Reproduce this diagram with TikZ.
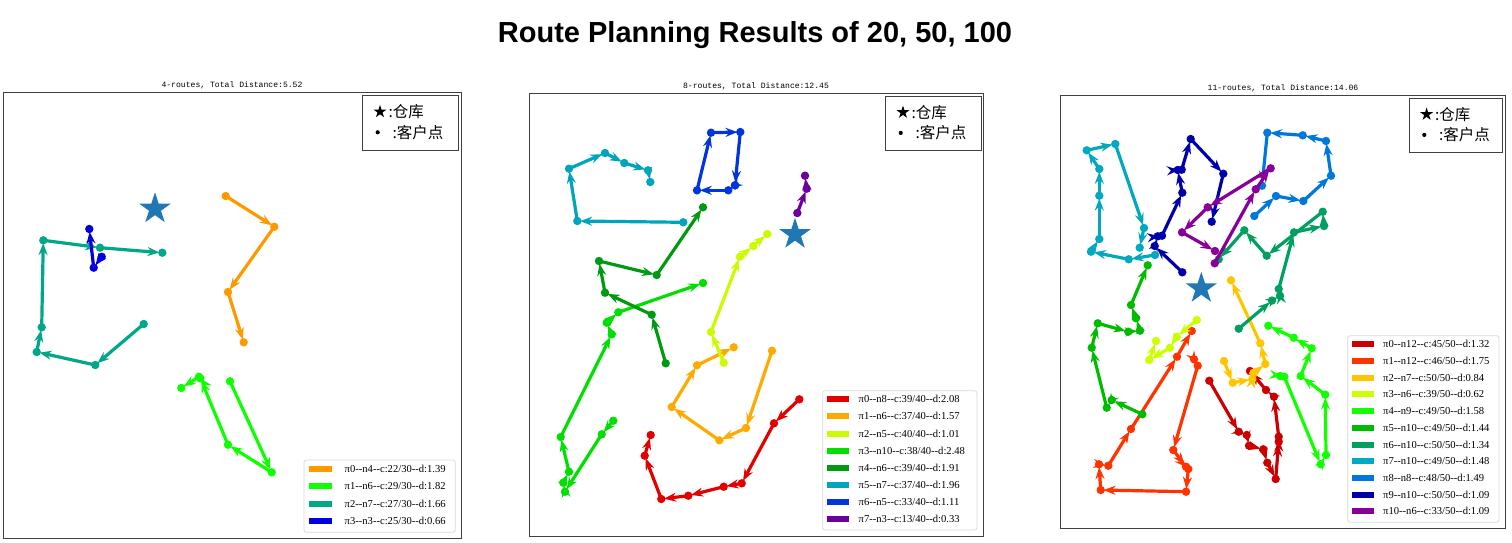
\documentclass[tikz,border=0pt]{standalone}
\usepackage{fontspec}
\setmainfont{Liberation Serif}
\newfontfamily\cjk{Noto Sans CJK SC}
\newfontfamily\ttlfont{Liberation Sans}
\newfontfamily\monofont{Liberation Mono}
\usetikzlibrary{arrows.meta,shapes.geometric}
% panel 1
\definecolor{pa0}{HTML}{FF9900}
\definecolor{pa1}{HTML}{0FFF00}
\definecolor{pa2}{HTML}{00A888}
\definecolor{pa3}{HTML}{0000DD}
% panel 2
\definecolor{pb0}{HTML}{E50000}
\definecolor{pb1}{HTML}{FFAA00}
\definecolor{pb2}{HTML}{CCFA00}
\definecolor{pb3}{HTML}{00E000}
\definecolor{pb4}{HTML}{009A10}
\definecolor{pb5}{HTML}{00A4BB}
\definecolor{pb6}{HTML}{0035DD}
\definecolor{pb7}{HTML}{6A009D}
% panel 3
\definecolor{pc0}{HTML}{CC0000}
\definecolor{pc1}{HTML}{FF3300}
\definecolor{pc2}{HTML}{FFC600}
\definecolor{pc3}{HTML}{CCFF00}
\definecolor{pc4}{HTML}{11FF00}
\definecolor{pc5}{HTML}{00BB00}
\definecolor{pc6}{HTML}{00A060}
\definecolor{pc7}{HTML}{00A8C0}
\definecolor{pc8}{HTML}{0077DD}
\definecolor{pc9}{HTML}{0000AA}
\definecolor{pc10}{HTML}{880099}
\definecolor{starblue}{HTML}{1F77B4}
\tikzset{
  seg/.style={draw=#1, line width=3.2pt, -{Stealth[length=12pt,width=9pt,inset=4pt]}, shorten >=2.8pt},
  depot/.style={star, star points=5, star point ratio=2.618, fill=starblue, draw=none, inner sep=0pt, minimum size=33pt},
  mstar/.style={star, star points=5, star point ratio=2.618, fill=black, draw=none, inner sep=0pt, minimum size=13.5pt},
  frame/.style={draw=black!75, line width=0.9pt},
  kbox/.style={draw=black!75, line width=0.9pt, fill=white},
  rbox/.style={draw=black!15, line width=0.8pt, fill=white, rounded corners=2.5pt},
  lgtxt/.style={anchor=west, inner sep=0pt, font=\fontsize{10.6}{12}\selectfont},
  cjktxt/.style={anchor=west, inner sep=0pt, font=\cjk\fontsize{15.5}{17}\selectfont},
  subttl/.style={anchor=base, inner sep=0pt, font=\monofont\fontsize{8.1}{10}\selectfont},
  mainttl/.style={anchor=base, inner sep=0pt, font=\ttlfont\bfseries\fontsize{29}{32}\selectfont}
}
\newcommand\myroute[3]{%
  \foreach \p [count=\i] in {#3} {\path \p coordinate (#1-\i);}%
  \foreach \p [count=\i, remember=\i as \j (initially 0)] in {#3} {%
    \ifnum\i>1 \draw[seg=#2] (#1-\j) -- (#1-\i);\fi}%
  \foreach \p [count=\i] in {#3} {\fill[#2] (#1-\i) circle (4.2pt);}%
}
\newcommand\lgt[4]{π#1-{}-n#2-{}-c:#3-{}-d:#4}
\newcommand\lgrow[6]{%
  \fill[#5] (#2,#4-3) rectangle ++(22.4,6);
  \node[lgtxt] (#1) at (#3,#4) {#6};}
\newcommand\keybox[4]{% name, left, top, right
  \draw[kbox] (#2,#3) rectangle (#4,#3+54.6);
  \node[mstar] (#1-s) at (#2+17.3,#3+16) {};
  \node[cjktxt] (#1-t1) at (#2+25.6,#3+16) {:仓库};
  \fill (#2+15,#3+36.6) circle (2.1pt);
  \node[cjktxt] (#1-t2) at (#2+29.6,#3+36.6) {:客户点};}
\begin{document}
\begin{tikzpicture}[x=1pt,y=-1pt]
\useasboundingbox[fill=white] (0,0) rectangle (1512,542);
\node[mainttl] (title) at (755,42) {Route Planning Results of 20, 50, 100};
% ---------------- panel 1
\node[subttl] (t1) at (232,87) {4-routes, Total Distance:5.52};
\draw[frame] (3.5,92.5) rectangle (461,538);
\myroute{a0}{pa0}{(225.7,196),(274.3,226.7),(228,292),(243.7,342.3)}
\myroute{a1}{pa1}{(230,381.3),(271.7,472.3),(228,444.7),(200.3,378.3),(199,376.7),(181.3,388)}
\myroute{a2}{pa2}{(143.7,324),(95.3,365),(36.7,352),(41.7,327.3),(43.3,240.3),(100,247.7),(162.3,252.7)}
\myroute{a3}{pa3}{(101.7,256.7),(93.7,267.7),(89.3,229)}
\node[depot] (d1) at (155,208.8) {};
\keybox{k1}{362.7}{95.7}{458.3}
\draw[rbox] (304,460) rectangle (455.3,532.3);
\lgrow{l10}{309.3}{344.5}{469.3}{pa0}{\lgt{0}{4}{22/30}{1.39}}
\lgrow{l11}{309.3}{344.5}{486.3}{pa1}{\lgt{1}{6}{29/30}{1.82}}
\lgrow{l12}{309.3}{344.5}{503.7}{pa2}{\lgt{2}{7}{27/30}{1.66}}
\lgrow{l13}{309.3}{344.5}{521}{pa3}{\lgt{3}{3}{25/30}{0.66}}
% ---------------- panel 2
\node[subttl] (t2) at (756,88) {8-routes, Total Distance:12.45};
\draw[frame] (529,93) rectangle (983.3,536.7);
\myroute{b0}{pb0}{(799.3,399.3),(774,423.3),(741.7,483.3),(723.7,486.7),(688.3,495.7),(661.3,499),(644.7,455.7),(650.7,435)}
\myroute{b1}{pb1}{(772,350.7),(746,428),(719.3,440.3),(671.7,407),(697,365.3),(733.7,347.3)}
\myroute{b2}{pb2}{(723.7,362.7),(711,332),(740,256.7),(753.3,246),(767.3,234)}
\myroute{b3}{pb3}{(613.3,420.7),(601.7,434.3),(565,491.7),(563.3,482.7),(569,471.7),(560.7,437),(611.7,334.3),(606.7,322.7),(618.3,312.3),(703,283)}
\myroute{b4}{pb4}{(665.7,363.3),(651.7,314.7),(605,292.7),(599,261),(656.7,275),(703,207.3)}
\myroute{b5}{pb5}{(683.3,222.3),(577.3,221),(569,168.7),(605,153),(624.3,163),(648,170.3),(650.3,182)}
\myroute{b6}{pb6}{(735,185.3),(728.3,190.3),(697,190.3),(711,132.7),(740.3,132),(735,185.3)}
\myroute{b7}{pb7}{(797.3,213),(806.7,188.7),(805,175.7)}
\node[depot] (d2) at (795,234.3) {};
\keybox{k2}{885.7}{96.3}{981}
\draw[rbox] (822.7,390.7) rectangle (977,530);
\lgrow{l20}{827}{858.5}{399}{pb0}{\lgt{0}{8}{39/40}{2.08}}
\lgrow{l21}{827}{858.5}{416.3}{pb1}{\lgt{1}{6}{37/40}{1.57}}
\lgrow{l22}{827}{858.5}{433.7}{pb2}{\lgt{2}{5}{40/40}{1.01}}
\lgrow{l23}{827}{858.5}{450.7}{pb3}{\lgt{3}{10}{38/40}{2.48}}
\lgrow{l24}{827}{858.5}{468}{pb4}{\lgt{4}{6}{39/40}{1.91}}
\lgrow{l25}{827}{858.5}{485}{pb5}{\lgt{5}{7}{37/40}{1.96}}
\lgrow{l26}{827}{858.5}{502}{pb6}{\lgt{6}{5}{33/40}{1.11}}
\lgrow{l27}{827}{858.5}{519}{pb7}{\lgt{7}{3}{13/40}{0.33}}
% ---------------- panel 3
\node[subttl] (t3) at (1283,90) {11-routes, Total Distance:14.06};
\draw[frame] (1060.3,95) rectangle (1505.3,528.3);
\myroute{c0}{pc0}{(1209.3,380.7),(1238.7,431.7),(1246.7,435),(1249,445.7),(1263.3,449.3),(1267.3,462.7),(1275.7,479),(1278.7,441.7),(1278.7,436.7),(1274,396.7),(1266,390),(1250,371)}
\myroute{c1}{pc1}{(1194,359.3),(1197.7,365.7),(1173.3,450),(1186,466.7),(1188.3,469),(1186,491.7),(1100.7,490),(1099,464.3),(1108.3,465.7),(1131,429),(1177,356.7),(1191.7,331)}
\myroute{c2}{pc2}{(1224,361),(1232.7,382.7),(1252.3,379.3),(1253.3,373.3),(1265.3,364),(1260.3,343.3),(1231,280.3)}
\myroute{c3}{pc3}{(1196.7,320),(1176.7,336.7),(1170,347.7),(1149.3,360),(1156,341)}
\myroute{c4}{pc4}{(1280,376),(1284.3,376.7),(1320.7,464.3),(1326,455),(1325.3,394.7),(1300.7,376),(1311.7,348.3),(1293.7,337.7),(1268.3,325.7)}
\myroute{c5}{pc5}{(1142.3,414.3),(1111.7,400),(1106.7,407.7),(1091.7,347.7),(1097.7,323.3),(1128.3,331.7),(1140,330.7),(1136,318.3),(1131,305),(1147.7,265.3)}
\myroute{c6}{pc6}{(1238.7,328.7),(1272,300.5),(1280,295.7),(1278.7,289),(1294,232.3),(1324,226),(1322.7,211.7),(1266.7,255.7),(1244.3,230.3),(1218.7,259.3)}
\myroute{c7}{pc7}{(1155,255),(1128.7,259.3),(1091,251.7),(1099.3,239),(1099.3,195.7),(1099.3,169),(1086.7,150.3),(1115.3,144),(1144,228),(1139.7,247.7)}
\myroute{c8}{pc8}{(1254.3,216),(1276,196),(1303.3,201),(1331,175.7),(1326,141),(1302.7,135.3),(1267.3,132.7),(1262,185.7)}
\myroute{c9}{pc9}{(1182.3,272.3),(1154.7,246),(1157.7,236.3),(1162,235.7),(1182.3,192.7),(1177.7,170),(1181.7,169.7),(1190.7,139),(1223.3,173.7),(1211.7,221.7)}
\myroute{c10}{pc10}{(1214.7,263.3),(1255.7,189.3),(1270.7,168.3),(1207.7,207.3),(1182,232.3),(1215,251)}
\node[depot] (d3) at (1201.3,288.4) {};
\keybox{k3}{1409.3}{98.3}{1502.3}
\draw[rbox] (1347.7,335.7) rectangle (1499,522.3);
\lgrow{l30}{1351.7}{1383}{344}{pc0}{\lgt{0}{12}{45/50}{1.32}}
\lgrow{l31}{1351.7}{1383}{361}{pc1}{\lgt{1}{12}{46/50}{1.75}}
\lgrow{l32}{1351.7}{1383}{377.7}{pc2}{\lgt{2}{7}{50/50}{0.84}}
\lgrow{l33}{1351.7}{1383}{394.3}{pc3}{\lgt{3}{6}{39/50}{0.62}}
\lgrow{l34}{1351.7}{1383}{411.3}{pc4}{\lgt{4}{9}{49/50}{1.58}}
\lgrow{l35}{1351.7}{1383}{428}{pc5}{\lgt{5}{10}{49/50}{1.44}}
\lgrow{l36}{1351.7}{1383}{444.7}{pc6}{\lgt{6}{10}{50/50}{1.34}}
\lgrow{l37}{1351.7}{1383}{461.3}{pc7}{\lgt{7}{10}{49/50}{1.48}}
\lgrow{l38}{1351.7}{1383}{478}{pc8}{\lgt{8}{8}{48/50}{1.49}}
\lgrow{l39}{1351.7}{1383}{494.7}{pc9}{\lgt{9}{10}{50/50}{1.09}}
\lgrow{l310}{1351.7}{1383}{511.3}{pc10}{\lgt{10}{6}{33/50}{1.09}}
\end{tikzpicture}
\end{document}
